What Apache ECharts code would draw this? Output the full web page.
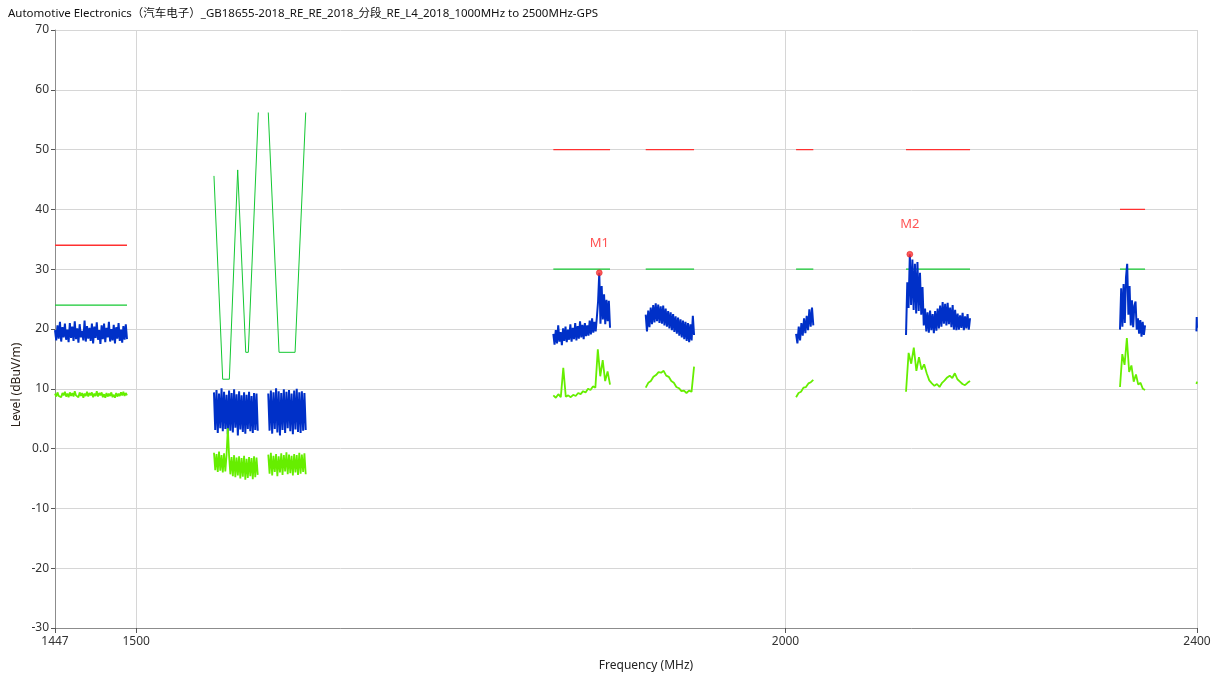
<!DOCTYPE html>
<html>
<head>
<meta charset="utf-8">
<title>GB18655 RE GPS</title>
<script src="https://cdn.jsdelivr.net/npm/echarts@6/dist/echarts.min.js"></script>
<style>
  html, body { margin: 0; padding: 0; background: #fff; }
  #chart { width: 1217px; height: 681px; }
</style>
</head>
<body>
<div id="chart"></div>
<script>
const chartTitle = 'Automotive Electronics（汽车电子）_GB18655-2018_RE_RE_2018_分段_RE_L4_2018_1000MHz to 2500MHz-GPS';
const yAxisTitle = 'Level (dBuV/m)';
const xAxisTitle = 'Frequency (MHz)';
const xTickValues = [1447, 1500, 2000, 2400];

// Limit lines: [start MHz, stop MHz, level dBuV/m]
const peakLimits = [
  [1447, 1493.9, 34], [1804.5, 1850.4, 50], [1879.9, 1920.6, 50],
  [2009.4, 2024.8, 50], [2109.7, 2170.4, 50], [2319.5, 2345.4, 40], [2399.5, 2400, 50]
];
const avgLimits = [
  [1447, 1493.9, 24], [1804.5, 1850.4, 30], [1879.9, 1920.6, 30],
  [2009.4, 2024.8, 30], [2109.7, 2170.4, 30], [2319.5, 2345.4, 30], [2399.5, 2400, 30]
];

// Stepped limit in the GNSS band
const gnssLimitFreq  = [1552.6, 1558.6, 1563.2, 1569.0, 1574.6, 1576.4, 1583.4, 1586.9, 1590.4, 1598.0, 1609.4, 1617.0];
const gnssLimitLevel = [45.6, 11.6, 11.6, 46.6, 16.1, 16.1, 56.2, null, 56.2, 16.1, 16.1, 56.2];

// Sweep ranges (MHz) shared by the peak and average traces
const sweepRanges = [
  [1447, 1493.9], [1552.6, 1583.0], [1590.4, 1617.0], [1804.5, 1850.4], [1879.9, 1920.6],
  [2009.4, 2024.8], [2109.7, 2170.4], [2319.5, 2345.4], [2399.4, 2400]
];

// Peak detector trace (dBuV/m)
const peak1 = [19.8,18.1,20.6,18.4,21.2,17.9,20.3,18.6,20.9,18.2,19.9,17.8,21.0,18.5,20.4,18.0,21.3,18.3,20.1,17.7,
  20.8,18.6,19.7,18.1,21.4,17.9,20.5,18.4,20.2,18.0,20.9,17.6,20.4,18.5,21.1,18.2,19.8,17.5,20.6,18.3,
  20.9,17.8,20.2,18.6,21.2,17.9,20.0,18.1,20.7,17.6,20.3,18.4,21.0,18.0,19.9,17.7,20.5,18.2,20.8,18.3];
const peak2 = [9.4,3.1,9.8,2.6,9.2,3.4,10.1,2.9,9.5,3.3,9.0,2.4,9.7,3.0,9.3,2.7,9.9,3.5,9.1,2.2,
  9.6,3.2,8.9,2.8,9.4,2.5,9.0,3.3,9.5,2.9,8.8,2.6,9.3,3.1,9.2,3.0];
const peak3 = [9.2,3.0,9.7,2.5,9.4,3.3,10.1,2.7,9.6,2.2,9.3,3.1,9.9,2.6,9.5,3.4,9.8,2.9,9.2,2.4,
  9.7,3.2,10.0,2.8,9.4,2.6,9.6,3.0,9.3,3.1];
const peak4 = [19.2,17.4,19.8,17.6,20.6,17.9,19.5,17.3,20.1,18.0,
  20.4,17.8,19.9,18.2,20.8,17.9,20.2,18.3,21.0,18.1,
  20.5,18.4,21.3,18.6,20.7,18.3,21.0,18.8,20.6,18.9,
  21.4,19.1,21.8,19.4,21.2,19.6,22.0,24.6,
  29.4,20.9,27.2,21.6,25.8,20.8,24.9,21.3,24.7,20.2];
const peak5 = [22.4,19.6,23.1,20.3,23.6,20.8,24.0,21.1,24.3,21.3,
  24.1,21.0,23.8,20.9,23.9,20.6,23.4,20.4,23.0,20.1,
  22.8,19.8,22.5,19.5,22.1,19.2,21.9,18.9,21.6,18.6,
  21.4,18.3,21.2,18.0,21.0,17.8,20.8,18.1,22.2,19.0];
const peak6 = [19.2,17.6,20.4,18.1,21.0,18.9,21.8,19.3,22.2,19.8,23.3,20.4,23.6,20.6];
const peak7 = [19.0,27.8,23.5,32.5,24.0,31.6,23.2,30.9,22.6,31.2,23.0,29.4,
  22.4,27.0,20.6,23.4,
  19.6,22.8,19.4,23.1,19.8,22.5,19.3,23.0,19.7,23.4,20.1,23.9,20.4,24.5,
  20.9,24.2,20.6,24.4,20.8,23.6,20.3,24.0,19.9,23.2,
  19.8,22.6,19.9,22.3,20.2,22.7,19.8,22.1,20.1,22.5,19.9,21.8];
const peak8 = [19.9,26.8,20.4,27.5,21.0,28.6,30.9,22.4,27.2,20.6,24.8,20.3,23.9,24.6,19.9,21.8,19.2,21.5,18.7,21.2,19.0,20.6];
const peak9 = [19.6,22.0,20.2];

// Average detector trace (dBuV/m)
const avg1 = [9.2,8.7,9.4,8.8,9.1,8.6,9.3,8.9,9.5,8.7,9.2,8.6,9.4,8.8,9.3,8.7,9.6,8.9,9.2,8.6,
  9.4,8.8,9.3,8.5,9.2,8.8,9.5,8.7,9.3,8.9,9.4,8.6,9.2,8.8,9.6,8.7,9.3,8.9,9.4,8.6,
  9.1,8.5,9.3,8.7,9.2,8.8,9.4,8.6,9.0,8.5,9.3,8.7,9.2,8.8,9.4,8.9,9.5,8.8,9.3,8.9];
const avg2 = [-0.7,-3.6,-0.9,-3.9,-0.5,-3.7,-1.1,-4.0,-0.8,-3.8,-1.0,3.4,-1.2,-4.3,-1.4,-4.6,-1.1,-4.8,-1.5,-4.5,
  -1.3,-5.0,-1.6,-4.7,-1.2,-5.2,-1.7,-4.9,-1.4,-4.6,-1.6,-5.1,-1.3,-4.8,-1.5,-4.4];
const avg3 = [-1.0,-4.2,-0.7,-4.5,-1.2,-3.9,-0.9,-4.6,-1.3,-4.0,-0.8,-4.4,-1.1,-3.8,-0.6,-4.3,-1.0,-4.1,-1.2,-4.5,
  -0.9,-4.0,-1.1,-4.4,-0.7,-4.2,-1.0,-3.9,-0.8,-4.3];
const avg4 = [8.9,8.5,9.1,8.6,13.5,8.7,8.9,8.6,9.0,8.8,9.3,9.1,9.6,9.4,10.0,9.8,10.4,10.2,16.6,12.1,14.8,11.3,12.9,10.7];
const avg5 = [10.2,11.0,11.3,12.0,12.3,12.8,12.7,13.0,12.2,12.0,11.3,11.0,10.3,10.1,9.6,9.7,9.3,9.7,9.5,13.7];
const avg6 = [8.6,9.3,9.5,10.2,10.3,10.9,11.1,11.5];
const avg7 = [9.5,16.0,14.2,16.9,13.0,15.3,13.2,14.1,12.6,11.4,10.9,10.5,10.8,10.3,11.0,11.4,11.9,12.2,11.8,12.6,
  11.6,11.2,10.8,10.6,11.0,11.3];
const avg8 = [10.3,15.8,14.0,18.5,12.8,13.9,11.2,12.4,10.7,11.0,10.0,9.8];
const avg9 = [10.8,11.2];

const peakTraces = [peak1, peak2, peak3, peak4, peak5, peak6, peak7, peak8, peak9];
const avgTraces  = [avg1, avg2, avg3, avg4, avg5, avg6, avg7, avg8, avg9];

// Markers placed on the highest peak reading of a sweep
const markerNames = ['M1', 'M2'];
const markerSweeps = [3, 6];

const RED = '#ff3030', LIMIT_GREEN = '#14c832', PEAK_BLUE = '#0030c8', AVG_GREEN = '#66ee00';
const FONT = 'Noto Sans, Noto Sans CJK SC, sans-serif';

function sweepPoints(range, values) {
  const [f0, f1] = range;
  const n = values.length;
  return values.map((v, i) => [f0 + (f1 - f0) * i / (n - 1), v]);
}

function lineSeries(data, color, z, width) {
  return {
    type: 'line', data, showSymbol: false, symbol: 'none', z,
    lineStyle: { color, width: width || 1 }, itemStyle: { color },
    silent: true, animation: false, connectNulls: false
  };
}

const series = [];
peakLimits.forEach(([a, b, v]) => series.push(lineSeries([[a, v], [b, v]], RED, 2, 1.4)));
avgLimits.forEach(([a, b, v]) => series.push(lineSeries([[a, v], [b, v]], LIMIT_GREEN, 2, 1.2)));
series.push(lineSeries(gnssLimitFreq.map((f, i) => [f, gnssLimitLevel[i] === null ? '-' : gnssLimitLevel[i]]), LIMIT_GREEN, 2, 1));
peakTraces.forEach((vals, i) => series.push(lineSeries(sweepPoints(sweepRanges[i], vals), PEAK_BLUE, 3, 2)));
avgTraces.forEach((vals, i) => series.push(lineSeries(sweepPoints(sweepRanges[i], vals), AVG_GREEN, 4, 1.8)));

const markerData = markerSweeps.map((s, k) => {
  const pts = sweepPoints(sweepRanges[s], peakTraces[s]);
  let best = pts[0];
  pts.forEach(p => { if (p[1] > best[1]) best = p; });
  return { name: markerNames[k], value: best };
});
series.push({
  type: 'scatter', data: markerData, symbol: 'circle', symbolSize: 6, z: 6,
  itemStyle: { color: '#ff3030', borderColor: '#d01010', borderWidth: 0.5 },
  label: { show: true, position: 'top', distance: 20, formatter: p => p.name,
           color: '#ff2828', fontSize: 13, fontFamily: FONT },
  animation: false, silent: true
});

const chart = echarts.init(document.getElementById('chart'), null, { renderer: 'canvas' });
chart.setOption({
  animation: false,
  backgroundColor: '#ffffff',
  textStyle: { fontFamily: FONT },
  title: {
    text: chartTitle, left: 3, top: 3,
    textStyle: { fontSize: 11.5, fontWeight: 'normal', color: '#111', fontFamily: FONT }
  },
  graphic: [{
    type: 'text', x: 17, y: 385, rotation: Math.PI / 2, silent: true,
    style: { text: yAxisTitle, fill: '#2a2018', fontSize: 12, fontFamily: FONT,
             align: 'center', verticalAlign: 'middle' }
  }],
  grid: { left: 55, right: 20, top: 30, bottom: 53, containLabel: false, outerBoundsMode: 'none' },
  xAxis: {
    type: 'log', logBase: 10, min: 1447, max: 2400,
    name: xAxisTitle, nameLocation: 'middle', nameGap: 32,
    nameTextStyle: { color: '#222', fontSize: 12, padding: [0, 0, 0, 40] },
    axisLine: { show: true, onZero: false, lineStyle: { color: '#8c8c8c', width: 1 } },
    axisTick: { show: true, customValues: xTickValues, length: 5, lineStyle: { color: '#555' } },
    axisLabel: { customValues: xTickValues, color: '#333', fontSize: 12, margin: 8,
                 formatter: v => String(Math.round(v)) },
    splitLine: { show: true, lineStyle: { color: '#d6d6d6', width: 1 } },
    minorTick: { show: false }, minorSplitLine: { show: false }
  },
  yAxis: {
    type: 'value', min: -30, max: 70, interval: 10,
    axisLine: { show: true, onZero: false, lineStyle: { color: '#8c8c8c', width: 1 } },
    axisTick: { show: true, length: 4, lineStyle: { color: '#555' } },
    axisLabel: { color: '#333', fontSize: 12, margin: 6, formatter: v => (v === 0 ? '0.0' : String(v)) },
    splitLine: { show: true, lineStyle: { color: '#d6d6d6', width: 1 } }
  },
  series
});
</script>
</body>
</html>
